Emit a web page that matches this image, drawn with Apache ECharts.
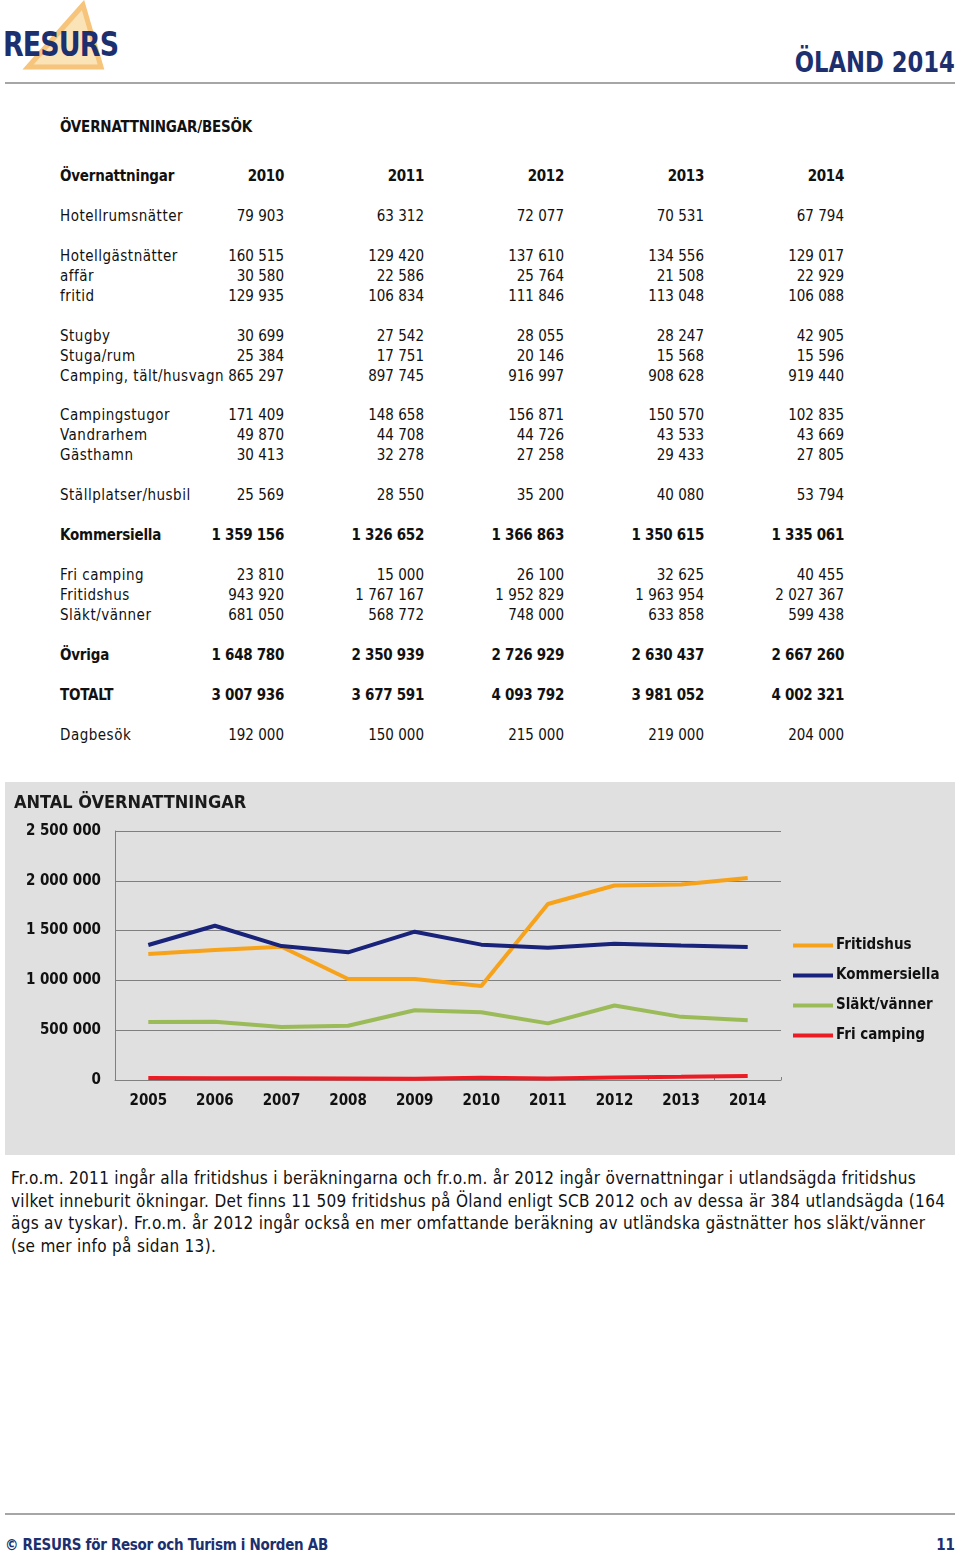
<!DOCTYPE html>
<html>
<head>
<meta charset="utf-8">
<script src="https://cdn.jsdelivr.net/npm/echarts@6/dist/echarts.min.js"></script>
<style>
  html, body { margin: 0; padding: 0; background: #fff; }
  body { width: 960px; height: 1556px; position: relative; overflow: hidden;
         font-family: "DejaVu Sans Condensed", "DejaVu Sans", sans-serif; color: #111; }
  .abs { position: absolute; white-space: nowrap; }
  .logo { left: 3px; top: 24px; font-size: 34px; font-weight: bold; color: #1c2f6e; letter-spacing: -1px; transform: scaleX(0.88); transform-origin: left; }
  .title { right: 5px; top: 46px; font-size: 28px; font-weight: bold; color: #1c2f6e; transform: scaleX(0.9); transform-origin: right; }
  .hline { left: 5px; width: 950px; height: 2px; background: #a6a6a6; }
  .row { position: absolute; left: 0; width: 960px; height: 20px; line-height: 20px; font-size: 15px; }
  .row span { position: absolute; top: 0; }
  .lab { left: 60px; letter-spacing: 0.5px; }
  .b .lab { letter-spacing: -0.2px; }
  .num { text-align: right; }
  .b .num { letter-spacing: -0.3px; }
  .b { font-weight: bold; }
  #chart { position: absolute; left: 5px; top: 782px; width: 950px; height: 373px; }
  .para { left: 11px; top: 1167px; font-size: 17px; line-height: 22.7px; letter-spacing: 0.3px; }
  .foot { left: 5px; top: 1536px; font-size: 15px; font-weight: bold; color: #1c2f6e; letter-spacing: -0.3px; }
  .page { right: 5px; top: 1536px; font-size: 15px; font-weight: bold; color: #1c2f6e; }
</style>
</head>
<body>
<svg class="abs" style="left:0;top:0" width="130" height="80">
  <polygon points="83,5 28,67 101,67" fill="#fbe3b8" stroke="#f6c47a" stroke-width="5" stroke-linejoin="miter"/>
</svg>
<div class="abs logo">RESURS</div>
<div class="abs title">ÖLAND 2014</div>
<div class="abs hline" style="top:82px"></div>

<div id="table"></div>

<div id="chart"></div>

<div class="abs para">Fr.o.m. 2011 ingår alla fritidshus i beräkningarna och fr.o.m. år 2012 ingår övernattningar i utlandsägda fritidshus<br>vilket inneburit ökningar. Det finns 11 509 fritidshus på Öland enligt SCB 2012 och av dessa är 384 utlandsägda (164<br>ägs av tyskar). Fr.o.m. år 2012 ingår också en mer omfattande beräkning av utländska gästnätter hos släkt/vänner<br>(se mer info på sidan 13).</div>

<div class="abs hline" style="top:1513px"></div>
<div class="abs foot">© RESURS för Resor och Turism i Norden AB</div>
<div class="abs page">11</div>

<script>
// ---- Table data ----
const tableTitle = 'ÖVERNATTNINGAR/BESÖK';
const tableYears = ['2010', '2011', '2012', '2013', '2014'];
const tableHeaderLabel = 'Övernattningar';
const rowLabels = ['Hotellrumsnätter', null, 'Hotellgästnätter', 'affär', 'fritid', null,
  'Stugby', 'Stuga/rum', 'Camping, tält/husvagn', null,
  'Campingstugor', 'Vandrarhem', 'Gästhamn', null,
  'Ställplatser/husbil', null, 'Kommersiella', null,
  'Fri camping', 'Fritidshus', 'Släkt/vänner', null,
  'Övriga', null, 'TOTALT', null, 'Dagbesök'];
const rowValues = [
  [79903, 63312, 72077, 70531, 67794], null,
  [160515, 129420, 137610, 134556, 129017],
  [30580, 22586, 25764, 21508, 22929],
  [129935, 106834, 111846, 113048, 106088], null,
  [30699, 27542, 28055, 28247, 42905],
  [25384, 17751, 20146, 15568, 15596],
  [865297, 897745, 916997, 908628, 919440], null,
  [171409, 148658, 156871, 150570, 102835],
  [49870, 44708, 44726, 43533, 43669],
  [30413, 32278, 27258, 29433, 27805], null,
  [25569, 28550, 35200, 40080, 53794], null,
  [1359156, 1326652, 1366863, 1350615, 1335061], null,
  [23810, 15000, 26100, 32625, 40455],
  [943920, 1767167, 1952829, 1963954, 2027367],
  [681050, 568772, 748000, 633858, 599438], null,
  [1648780, 2350939, 2726929, 2630437, 2667260], null,
  [3007936, 3677591, 4093792, 3981052, 4002321], null,
  [192000, 150000, 215000, 219000, 204000]];
const boldRows = ['Kommersiella', 'Övriga', 'TOTALT'];

// ---- Chart data ----
const chartTitle = 'ANTAL ÖVERNATTNINGAR';
const years = ['2005', '2006', '2007', '2008', '2009', '2010', '2011', '2012', '2013', '2014'];
const fritidshus = [1265000, 1305000, 1338000, 1014000, 1014000, 943920, 1767167, 1952829, 1963954, 2027367];
const kommersiella = [1355000, 1549000, 1345000, 1282000, 1489000, 1359156, 1326652, 1366863, 1350615, 1335061];
const slaktVanner = [582000, 585000, 532000, 545000, 700000, 681050, 568772, 748000, 633858, 599438];
const friCamping = [20000, 18000, 17000, 16000, 12000, 23810, 15000, 26100, 32625, 40455];

function fmt(n) { return String(n).replace(/\B(?=(\d{3})+(?!\d))/g, ' '); }

// build table
(function () {
  const t = document.getElementById('table');
  const colRight = [284, 424, 564, 704, 844];
  let html = '';
  html += '<div class="row b" style="top:117px"><span class="lab">' + tableTitle + '</span></div>';
  let top = 166;
  html += '<div class="row b" style="top:' + top + 'px"><span class="lab">' + tableHeaderLabel + '</span>';
  tableYears.forEach((y, i) => {
    html += '<span class="num" style="right:' + (960 - colRight[i]) + 'px">' + y + '</span>';
  });
  html += '</div>';
  top += 39.9;
  rowLabels.forEach((lab, r) => {
    if (lab !== null) {
      const b = boldRows.includes(lab) ? ' b' : '';
      html += '<div class="row' + b + '" style="top:' + top.toFixed(1) + 'px"><span class="lab">' + lab + '</span>';
      rowValues[r].forEach((v, i) => {
        html += '<span class="num" style="right:' + (960 - colRight[i]) + 'px">' + fmt(v) + '</span>';
      });
      html += '</div>';
    }
    top += 19.95;
  });
  t.innerHTML = html;
})();

const chart = echarts.init(document.getElementById('chart'), null, { renderer: 'canvas' });
const fontFam = '"DejaVu Sans Condensed", "DejaVu Sans", sans-serif';
function mk(name, data, color) {
  return { name: name, type: 'line', data: data, showSymbol: false, symbol: 'none',
           lineStyle: { color: color, width: 4 }, itemStyle: { color: color }, animation: false };
}
chart.setOption({
  backgroundColor: '#e0e0e0',
  animation: false,
  textStyle: { fontFamily: fontFam },
  title: { text: chartTitle, left: 4, top: 7,
           textStyle: { fontFamily: fontFam, fontSize: 18, fontWeight: 'bold', color: '#1a1a1a' } },
  grid: { left: 110, right: 174, top: 49, bottom: 75, containLabel: false },
  legend: {
    orient: 'vertical', left: 783, top: 151, itemGap: 15, itemWidth: 40, itemHeight: 4,
    icon: 'rect',
    textStyle: { fontFamily: fontFam, fontSize: 15, fontWeight: 'bold', color: '#111', padding: [0, 0, 0, -2] },
    data: ['Fritidshus', 'Kommersiella', 'Släkt/vänner', 'Fri camping']
  },
  xAxis: {
    type: 'category', data: years, boundaryGap: true,
    axisLine: { lineStyle: { color: '#808080', width: 1 } },
    axisTick: { show: true, inside: true, length: 3, lineStyle: { color: '#808080' } },
    axisLabel: { fontFamily: fontFam, fontSize: 15, fontWeight: 'bold', color: '#111', margin: 14 }
  },
  yAxis: {
    type: 'value', min: 0, max: 2500000, interval: 500000,
    axisLine: { show: true, lineStyle: { color: '#808080', width: 1 } },
    axisTick: { show: false },
    splitLine: { lineStyle: { color: '#7f7f7f', width: 1 } },
    axisLabel: { fontFamily: fontFam, fontSize: 15, fontWeight: 'bold', color: '#111', margin: 14,
                 formatter: function (v) { return fmt(v); } }
  },
  series: [
    mk('Fritidshus', fritidshus, '#f7a21b'),
    mk('Kommersiella', kommersiella, '#19237a'),
    mk('Släkt/vänner', slaktVanner, '#9bbb59'),
    mk('Fri camping', friCamping, '#ec1c24')
  ]
});
</script>
</body>
</html>
